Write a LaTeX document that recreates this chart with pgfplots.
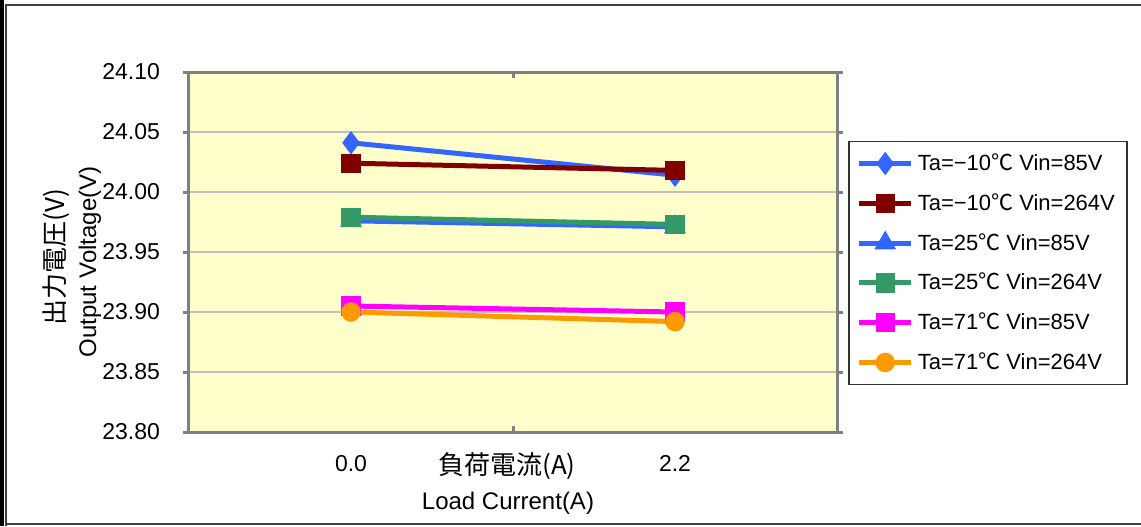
\documentclass[border=0pt]{standalone}
\usepackage{fontspec}
\setmainfont{Liberation Sans}
\newfontfamily\jp{Noto Sans CJK JP}
\usepackage{pgfplots}
\pgfplotsset{compat=1.18}

\definecolor{cblue}{HTML}{3366FF}
\definecolor{cred}{HTML}{800000}
\definecolor{cgreen}{HTML}{339966}
\definecolor{cmag}{HTML}{FF00FF}
\definecolor{corange}{HTML}{FF9900}
\definecolor{cbg}{HTML}{FFFFCC}
\definecolor{cgrid}{HTML}{C0C0C0}
\definecolor{caxis}{HTML}{808080}

\begin{document}
\begin{tikzpicture}
\useasboundingbox (-94.5pt,-47pt) rectangle (476pt,216pt);
\begin{scope}[x=0.5pt,y=-0.5pt,shift={(-94.5pt,216pt)}]
  \fill[black] (0,0) rectangle (4,526);
  \draw[black!75,line width=1pt] (6,526) -- (6,5) -- (1145,5);
  \draw[black!75,line width=1pt] (6,524) -- (1145,524);
\end{scope}
\begin{axis}[
  at={(0,0)}, anchor=south west,
  scale only axis, width=324pt, height=180pt,
  xmin=-0.5, xmax=1.5, ymin=23.80, ymax=24.10,
  xtick={0.5}, xticklabels={},
  extra x ticks={0,1}, extra x tick labels={0.0,2.2},
  extra x tick style={major tick length=0pt, xticklabel style={yshift=-8pt}},
  ytick={23.80,23.85,23.90,23.95,24.00,24.05,24.10},
  ymajorgrids, grid style={cgrid, line width=1pt},
  axis line style={caxis, line width=1.5pt},
  tick style={caxis, line width=1.5pt},
  major tick length=3pt,
  ytick align=outside, xtick align=inside,
  yticklabel style={xshift=-8pt, /pgf/number format/.cd, fixed, fixed zerofill, precision=2},
  /pgf/number format/assume math mode=true,
  tick label style={font=\fontsize{11.5}{13}\selectfont},
  axis background/.style={fill=cbg},
  every axis plot/.append style={line width=2.5pt},
  legend cell align=left,
  legend image code/.code={\draw[mark repeat=2,mark phase=2,#1] plot coordinates {(0pt,0pt) (13pt,0pt) (26pt,0pt)};},
  legend style={at={(1,0.5)}, anchor=west, xshift=5.5pt, yshift=-5.5pt,
    draw=black!80, line width=0.75pt, fill=white,
    font=\fontsize{11}{13}\selectfont, row sep=6pt, inner xsep=4pt, inner ysep=4pt},
]
\addplot[color=cblue, mark=diamond*, mark size=3.8pt] coordinates {(0,24.041) (1,24.014)};
\addlegendentry{Ta=−10{\jp ℃} Vin=85V}
\addplot[color=cred, mark=square*, mark size=3.6pt] coordinates {(0,24.024) (1,24.018)};
\addlegendentry{Ta=−10{\jp ℃} Vin=264V}
\addplot[color=cblue, mark=triangle*, mark size=3.8pt] coordinates {(0,23.976) (1,23.971)};
\addlegendentry{Ta=25{\jp ℃} Vin=85V}
\addplot[color=cgreen, mark=square*, mark size=3.6pt] coordinates {(0,23.979) (1,23.973)};
\addlegendentry{Ta=25{\jp ℃} Vin=264V}
\addplot[color=cmag, mark=square*, mark size=3.6pt] coordinates {(0,23.905) (1,23.900)};
\addlegendentry{Ta=71{\jp ℃} Vin=85V}
\addplot[color=corange, mark=*, mark size=3.6pt] coordinates {(0,23.900) (1,23.892)};
\addlegendentry{Ta=71{\jp ℃} Vin=264V}
\end{axis}
\begin{scope}[x=0.5pt,y=-0.5pt,shift={(-94.5pt,216pt)}]
  \node[font=\jp\fontsize{13}{15}\selectfont] at (507,466) {負荷電流(A)};
  \node[font=\fontsize{12}{14}\selectfont] at (508,503) {Load Current(A)};
  \node[rotate=90, font=\jp\fontsize{13}{15}\selectfont] at (56,257) {出力電圧(V)};
  \node[rotate=90, font=\fontsize{12}{14}\selectfont] at (90,262) {Output Voltage(V)};
\end{scope}
\end{tikzpicture}
\end{document}
